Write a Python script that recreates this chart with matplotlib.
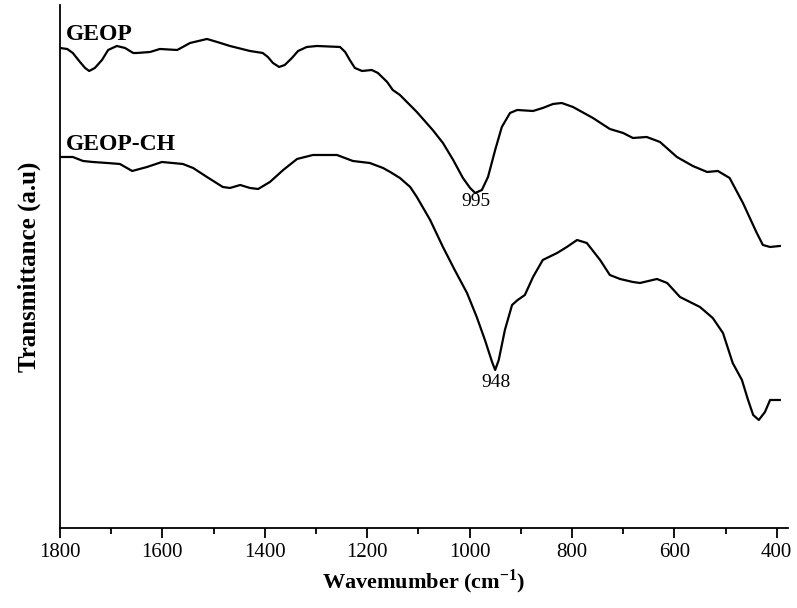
import numpy as np
import matplotlib
matplotlib.use("Agg")
import matplotlib.pyplot as plt
from matplotlib.ticker import MultipleLocator

plt.rcParams['font.family'] = ['Liberation Serif', 'DejaVu Serif']
plt.rcParams['mathtext.fontset'] = 'custom'
plt.rcParams['mathtext.rm'] = 'Liberation Serif'
plt.rcParams['mathtext.bf'] = 'Liberation Serif:bold'

# GEOP spectrum (wavenumber, a.u.)
geop_wn = [1800, 1786, 1775, 1761, 1751, 1743, 1732, 1718, 1706, 1689, 1673, 1657, 1650,
           1624, 1605, 1571, 1546, 1513, 1493, 1468, 1429, 1404, 1394, 1384, 1372, 1361,
           1347, 1335, 1318, 1298, 1253, 1243, 1234, 1224, 1210, 1191, 1179, 1161, 1150,
           1136, 1103, 1072, 1052, 1032, 1013, 999, 989, 976, 964, 950, 937, 921, 907,
           876, 857, 837, 820, 798, 759, 726, 700, 681, 654, 628, 595, 564, 536, 515,
           492, 466, 439, 427, 413, 394]
geop_t = [4.80, 4.79, 4.75, 4.66, 4.60, 4.57, 4.60, 4.68, 4.78, 4.82, 4.80, 4.75, 4.75,
          4.76, 4.79, 4.78, 4.85, 4.89, 4.86, 4.82, 4.77, 4.75, 4.71, 4.65, 4.61, 4.63,
          4.70, 4.77, 4.81, 4.82, 4.81, 4.76, 4.68, 4.60, 4.57, 4.58, 4.55, 4.46, 4.38,
          4.33, 4.16, 3.98, 3.85, 3.68, 3.50, 3.40, 3.35, 3.38, 3.51, 3.78, 4.01, 4.15, 4.18,
          4.17, 4.20, 4.24, 4.25, 4.21, 4.10, 3.99, 3.95, 3.90, 3.91, 3.86, 3.71, 3.62, 3.56,
          3.57, 3.50, 3.25, 2.95, 2.83, 2.81, 2.82]

# GEOP-CH spectrum
ch_wn = [1800, 1775, 1755, 1736, 1708, 1683, 1659, 1630, 1601, 1560, 1540, 1513, 1482,
         1468, 1448, 1429, 1413, 1390, 1364, 1337, 1306, 1259, 1228, 1195, 1169, 1155,
         1136, 1116, 1103, 1077, 1052, 1029, 1005, 986, 970, 956, 950, 943, 931, 917,
         906, 892, 876, 857, 829, 810, 790, 771, 745, 726, 706, 681, 667, 634, 614, 589,
         550, 525, 505, 486, 468, 456, 446, 435, 423, 413, 394]
ch_t = [3.71, 3.71, 3.67, 3.66, 3.65, 3.64, 3.57, 3.61, 3.66, 3.64, 3.60, 3.51, 3.41,
        3.40, 3.43, 3.40, 3.39, 3.46, 3.58, 3.69, 3.73, 3.73, 3.67, 3.65, 3.60, 3.56,
        3.50, 3.41, 3.31, 3.08, 2.81, 2.58, 2.35, 2.11, 1.88, 1.66, 1.58, 1.68, 1.98, 2.23,
        2.28, 2.33, 2.51, 2.68, 2.75, 2.81, 2.88, 2.85, 2.68, 2.53, 2.49, 2.46, 2.45, 2.49,
        2.45, 2.31, 2.21, 2.10, 1.95, 1.65, 1.48, 1.28, 1.13, 1.08, 1.16, 1.28, 1.28]

fig = plt.figure(figsize=(7.97, 6.08), dpi=100)
ax = fig.add_axes([0.0753, 0.1316, 0.9134, 0.8602])

ax.plot(geop_wn, geop_t, color='black', lw=1.6, solid_joinstyle='round')
ax.plot(ch_wn, ch_t, color='black', lw=1.6, solid_joinstyle='round')

ax.set_xlim(1800, 378)
ax.set_ylim(0, 5.23)
ax.xaxis.set_major_locator(MultipleLocator(200))
ax.xaxis.set_minor_locator(MultipleLocator(100))
ax.set_yticks([])
ax.tick_params(axis='x', which='major', direction='out', length=7, width=1.3,
               labelsize=15, pad=4)
ax.tick_params(axis='x', which='minor', direction='out', length=4, width=1.3)
for s in ['top', 'right']:
    ax.spines[s].set_visible(False)
for s in ['left', 'bottom']:
    ax.spines[s].set_linewidth(1.3)

ax.text(1788, 4.93, 'GEOP', fontsize=17, fontweight='bold', va='center', ha='left')
ax.text(1788, 3.83, 'GEOP-CH', fontsize=17, fontweight='bold', va='center', ha='left')
ax.text(987, 3.26, '995', fontsize=14, ha='center', va='center')
ax.text(948, 1.45, '948', fontsize=14, ha='center', va='center')

ax.set_xlabel(r'Wavemumber (cm$^{\mathbf{-1}}$)', fontsize=16, fontweight='bold', labelpad=4)
ax.set_ylabel('Transmittance (a.u)', fontsize=18, fontweight='bold', labelpad=14)

fig.savefig('out.png', dpi=100)
